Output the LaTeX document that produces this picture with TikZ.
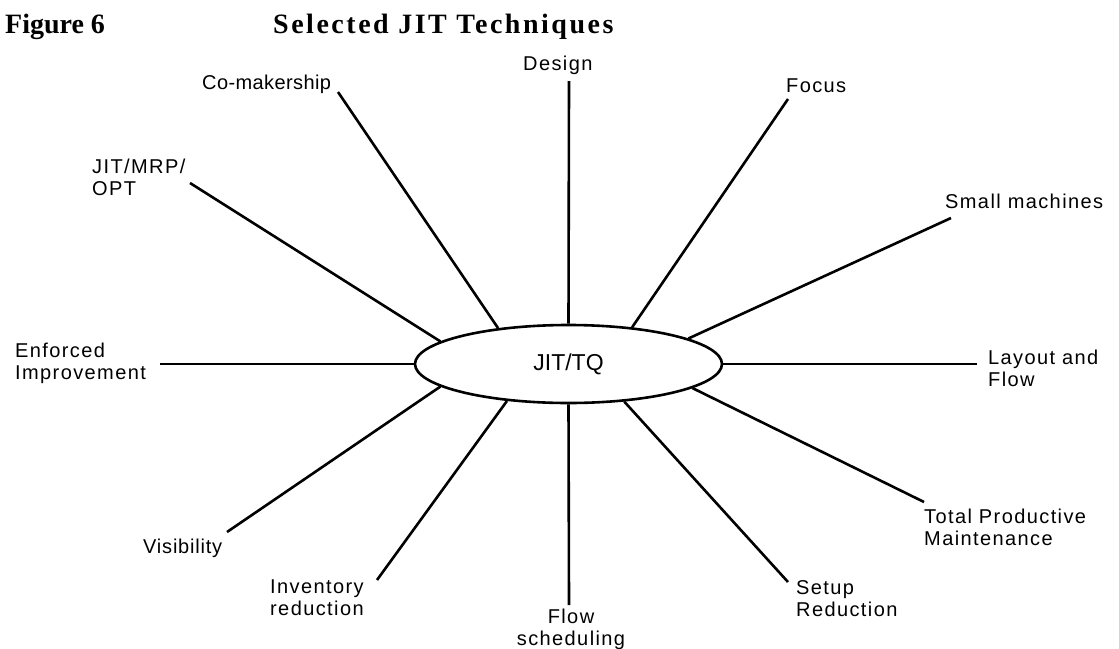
\documentclass[tikz,border=0pt]{standalone}
\usepackage{fontspec}
\setmainfont{Liberation Serif}
\newfontfamily\lblfont[LetterSpace=7]{Liberation Sans}
\newfontfamily\lblfonttight[LetterSpace=2]{Liberation Sans}
\newfontfamily\lblfontmid[LetterSpace=4]{Liberation Sans}
\newfontfamily\hubfont{Liberation Sans}
\usetikzlibrary{shapes.geometric}
\begin{document}
\begin{tikzpicture}[x=1pt,y=-1pt,
  lbl/.style={font=\lblfont\fontsize{20}{22}\selectfont, inner sep=0pt, align=left, anchor=base west},
  spoke/.style={line width=2.6pt},
  ttl/.style={font=\fontsize{28}{30}\selectfont\bfseries, inner sep=0pt, anchor=base west}]
\useasboundingbox (0,0) rectangle (1119,648);
\node[ttl] (fig) at (5,33) {Figure 6};
\node[ttl, font=\fontsize{28}{30}\selectfont\bfseries\addfontfeature{LetterSpace=9}] (title) at (273,33) {Selected JIT Techniques};
\node[draw, ellipse, line width=2.6pt, minimum width=307pt, minimum height=78pt, inner sep=0pt,
      font=\hubfont\fontsize{23}{25}\selectfont] (hub) at (568.5,364) {JIT/TQ};
% labels (base = baseline of the last line)
\node[lbl, font=\lblfonttight\fontsize{20}{22}\selectfont] (comak) at (202,89) {Co-makership};
\node[lbl] (design) at (523,70) {Design};
\node[lbl] (focus) at (786,92) {Focus};
\node[lbl] (small) at (945,208) {Small machines};
\node[lbl] (jit) at (92,195) {JIT/MRP/\\OPT};
\node[lbl] (enf) at (15,379) {Enforced\\Improvement};
\node[lbl] (layout) at (988,386) {Layout and\\Flow};
\node[lbl] (tpm) at (924,545) {Total Productive\\Maintenance};
\node[lbl] (setup) at (796,616) {Setup\\Reduction};
\node[lbl, align=center, anchor=base] (flow) at (571,645) {Flow\\scheduling};
\node[lbl] (inv) at (270,615) {Inventory\\reduction};
\node[lbl, font=\lblfontmid\fontsize{20}{22}\selectfont] (vis) at (143,553) {Visibility};
% free ends
\coordinate (eComak) at (338,92);
\coordinate (eDesign) at (569,81);
\coordinate (eFocus) at (788,99);
\coordinate (eSmall) at (951,218);
\coordinate (eLayout) at (977,364);
\coordinate (eTpm) at (924,502);
\coordinate (eSetup) at (788,582);
\coordinate (eFlow) at (569,605);
\coordinate (eInv) at (377,580);
\coordinate (eVis) at (227,532);
\coordinate (eEnf) at (160,364);
\coordinate (eJit) at (190,183);
% spokes
\draw[spoke] (eComak) -- (hub.153.9);
\draw[spoke] (eDesign) -- (hub.90);
\draw[spoke] (eFocus) -- (hub.30.2);
\draw[spoke] (eSmall) -- (hub.12.3);
\draw[spoke] (eLayout) -- (hub.0);
\draw[spoke] (eTpm) -- (hub.-11.4);
\draw[spoke] (eSetup) -- (hub.-34.4);
\draw[spoke] (eFlow) -- (hub.-90);
\draw[spoke] (eInv) -- (hub.211.4);
\draw[spoke] (eVis) -- (hub.190.8);
\draw[spoke] (eEnf) -- (hub.180);
\draw[spoke] (eJit) -- (hub.170.9);
\end{tikzpicture}
\end{document}
